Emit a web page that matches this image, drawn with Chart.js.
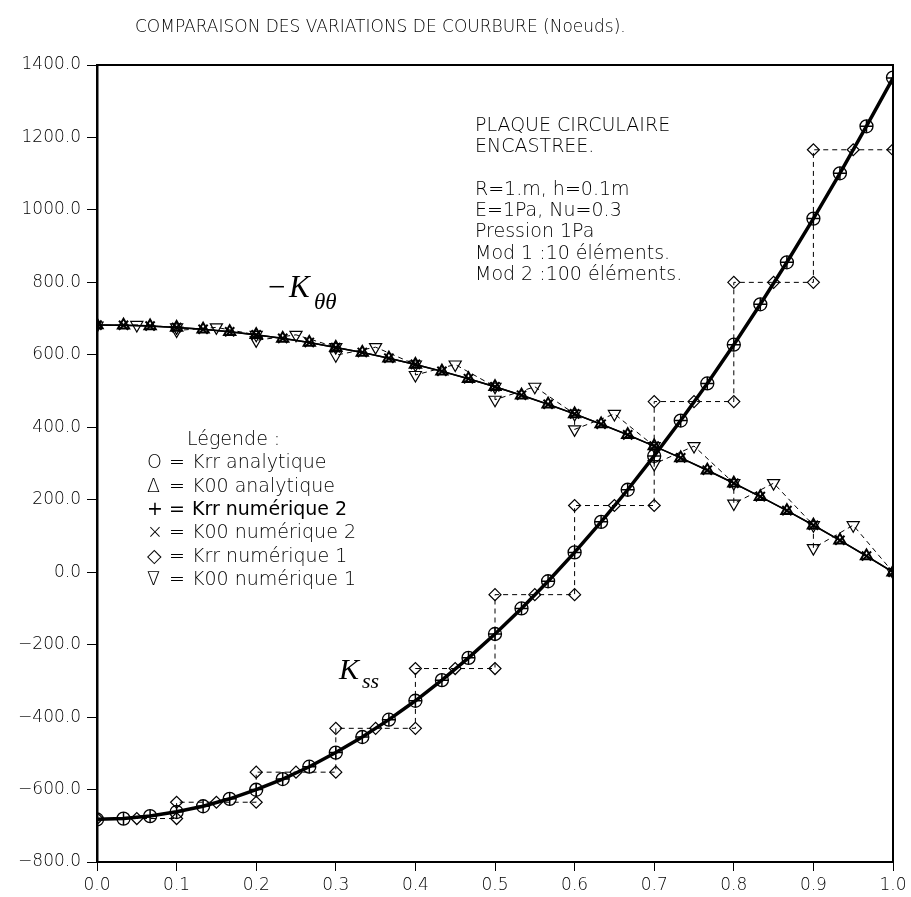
<!DOCTYPE html>
<html><head><meta charset="utf-8">
<script src="https://cdn.jsdelivr.net/npm/chart.js@4/dist/chart.umd.min.js"></script>
<style>html,body{margin:0;padding:0;background:#fff}#wrap{width:911px;height:897px;position:relative}</style>
</head><body><div id="wrap"><canvas id="c" width="911" height="897"></canvas></div>
<script>
// ---- data ----
const rPoints = [0, 0.0333, 0.0667, 0.1, 0.1333, 0.1667, 0.2, 0.2333, 0.2667, 0.3, 0.3333, 0.3667, 0.4, 0.4333, 0.4667, 0.5, 0.5333, 0.5667, 0.6, 0.6333, 0.6667, 0.7, 0.7333, 0.7667, 0.8, 0.8333, 0.8667, 0.9, 0.9333, 0.9667, 1.0];
const krrAnalytique = [-682.5, -680.2, -673.4, -662.0, -646.1, -625.6, -600.6, -571.0, -536.9, -498.2, -455.0, -407.2, -354.9, -298.0, -236.6, -170.6, -100.1, -25.0, 54.6, 138.8, 227.5, 320.8, 418.6, 521.0, 627.9, 739.4, 855.4, 976.0, 1101.1, 1230.8, 1365.0];
const kttAnalytique = [682.5, 681.7, 679.5, 675.7, 670.4, 663.5, 655.2, 645.3, 634.0, 620.1, 606.7, 590.7, 573.3, 554.3, 533.9, 511.9, 488.4, 463.3, 436.8, 408.7, 379.2, 348.1, 315.5, 281.3, 245.7, 208.5, 169.9, 129.7, 87.9, 44.7, 0.0];
const krrNum2 = [-682.0, -680.0, -673.0, -661.5, -646.0, -625.5, -600.0, -571.0, -537.0, -498.0, -455.0, -407.0, -355.0, -298.0, -236.5, -170.5, -100.0, -25.0, 54.5, 139.0, 227.5, 321.0, 418.5, 521.0, 628.0, 739.5, 855.5, 976.0, 1101.0, 1231.0, 1364.0];
const kttNum2 = [682.0, 681.5, 679.5, 675.5, 670.5, 663.5, 655.0, 645.5, 634.0, 620.0, 606.5, 590.5, 573.5, 554.5, 534.0, 512.0, 488.5, 463.5, 437.0, 408.5, 379.0, 348.0, 315.5, 281.5, 245.5, 208.5, 170.0, 129.5, 88.0, 44.5, 0.0];
// modele 1 (10 elements)
const elemNodes = [0, 0.1, 0.2, 0.3, 0.4, 0.5, 0.6, 0.7, 0.8, 0.9, 1.0];
const krrNum1 = [-680, -635, -552, -431, -266, -62, 184, 471, 800, 1166];
const kttNum1Start = [680.8, 667.1, 639.8, 598.9, 544.3, 476.0, 394.1, 298.6, 189.4, 66.5];
const kttNum1Mid = [682.5, 675.7, 655.2, 621.1, 573.3, 511.9, 436.8, 348.1, 245.7, 129.7];
const kttNum1End = [675.7, 655.2, 621.1, 573.3, 511.9, 436.8, 348.1, 245.7, 129.7, 0.0];
const xTickLabels = ['0.0','0.1','0.2','0.3','0.4','0.5','0.6','0.7','0.8','0.9','1.0'];

const titleText = 'COMPARAISON DES VARIATIONS DE COURBURE (Noeuds).';
const infoLines = ['PLAQUE CIRCULAIRE', 'ENCASTREE.', '', 'R=1.m, h=0.1m', 'E=1Pa, Nu=0.3', 'Pression 1Pa', 'Mod 1 :10 éléments.', 'Mod 2 :100 éléments.'];
const legendTitle = 'Légende :';
const legendSymbols = ['O', 'Δ', '+', '×', '◇', '∇'];
const legendLabels = ['Krr analytique', 'K00 analytique', 'Krr numérique 2', 'K00 numérique 2', 'Krr numérique 1', 'K00 numérique 1'];

// ---- build point tables ----
const pts = (xs, ys) => xs.map((x, i) => ({x: x, y: ys[i]}));
const krrNum1Pts = [];
krrNum1.forEach((v, i) => {
  const a = elemNodes[i], b = elemNodes[i + 1];
  krrNum1Pts.push({x: a, y: v}, {x: (a + b) / 2, y: v}, {x: b, y: v});
});
const kttNum1Pts = [];
kttNum1Mid.forEach((v, i) => {
  const a = elemNodes[i], b = elemNodes[i + 1];
  kttNum1Pts.push({x: a, y: kttNum1Start[i]}, {x: (a + b) / 2, y: v}, {x: b, y: kttNum1End[i]});
});

const FONT = '"DejaVu Sans", "Liberation Sans", sans-serif';
const SERIF = '"Liberation Serif", "DejaVu Serif", serif';
const none = 'rgba(0,0,0,0)';

const decor = {
  id: 'decor',
  afterDraw(chart) {
    const ctx = chart.ctx, ca = chart.chartArea;
    ctx.save();
    // frame
    ctx.strokeStyle = '#000';
    ctx.lineWidth = 2;
    ctx.strokeRect(ca.left, ca.top, ca.right - ca.left, ca.bottom - ca.top);
    ctx.fillStyle = '#000';
    ctx.textBaseline = 'middle';
    ctx.textAlign = 'left';
    // title
    ctx.font = '200 17px ' + FONT;
    ctx.fillText(titleText, 135, 28);
    // info block
    ctx.font = '200 19px ' + FONT;
    infoLines.forEach((t, i) => { if (t) ctx.fillText(t, 475, 126 + i * 21.3); });
    // legend
    ctx.font = '200 19px ' + FONT;
    ctx.fillText(legendTitle, 187, 440);
    legendLabels.forEach((t, i) => {
      const y = 463.5 + i * 23.3;
      ctx.font = (i === 2 ? '400 ' : '200 ') + '19px ' + FONT;
      ctx.fillText(legendSymbols[i], 147, y);
      ctx.fillText('=', 169, y);
      ctx.fillText(t, 192, y);
    });
    // math labels
    ctx.textBaseline = 'alphabetic';
    ctx.font = 'italic 31px ' + SERIF;
    ctx.fillText('\u2212', 266, 297);
    ctx.fillText('K', 289, 297);
    ctx.font = 'italic 23px ' + SERIF;
    ctx.fillText('\u03b8\u03b8', 314, 309);
    ctx.font = 'italic 30px ' + SERIF;
    ctx.fillText('K', 339, 679);
    ctx.font = 'italic 22px ' + SERIF;
    ctx.fillText('ss', 362, 688);
    ctx.restore();
  }
};

new Chart(document.getElementById('c'), {
  type: 'line',
  data: {
    datasets: [
      {label: 'Krr analytique', data: pts(rPoints, krrAnalytique), borderColor: '#000', borderWidth: 1.5,
       pointStyle: 'circle', pointRadius: 6.5, pointBorderWidth: 1.3, pointBackgroundColor: none, pointBorderColor: '#000'},
      {label: 'K00 analytique', data: pts(rPoints, kttAnalytique), borderColor: '#000', borderWidth: 1.5,
       pointStyle: 'triangle', pointRadius: 6.5, pointBorderWidth: 2, pointBackgroundColor: none, pointBorderColor: '#000'},
      {label: 'Krr numérique 2', data: pts(rPoints, krrNum2), borderColor: '#000', borderWidth: 3.5,
       pointStyle: 'cross', pointRadius: 6.5, pointBorderWidth: 1.5, pointBackgroundColor: none, pointBorderColor: '#000'},
      {label: 'K00 numérique 2', data: pts(rPoints, kttNum2), borderColor: '#000', borderWidth: 1.5,
       pointStyle: 'crossRot', pointRadius: 6.5, pointBorderWidth: 2, pointBackgroundColor: none, pointBorderColor: '#000'},
      {label: 'Krr numérique 1', data: krrNum1Pts, borderColor: '#000', borderWidth: 1, borderDash: [5, 4],
       pointStyle: 'rectRot', pointRadius: 6, pointBorderWidth: 1.2, pointBackgroundColor: none, pointBorderColor: '#000'},
      {label: 'K00 numérique 1', data: kttNum1Pts, borderColor: '#000', borderWidth: 1, borderDash: [5, 4],
       pointStyle: 'triangle', pointRotation: 180, pointRadius: 7, pointBorderWidth: 1.2, pointBackgroundColor: none, pointBorderColor: '#000'}
    ]
  },
  options: {
    responsive: false,
    animation: false,
    devicePixelRatio: 1,
    layout: {padding: {top: 65, right: 18, left: 0, bottom: 0}},
    plugins: {legend: {display: false}, tooltip: {enabled: false}, title: {display: false}},
    elements: {line: {tension: 0}},
    scales: {
      x: {
        type: 'linear', min: 0, max: 1,
        afterFit: s => { s.height = 35; },
        afterBuildTicks: s => { s.ticks = elemNodes.map(v => ({value: v})); },
        ticks: {color: '#000', font: {family: FONT, size: 17, weight: '200'}, padding: 4, maxRotation: 0,
                callback: (v, i) => xTickLabels[i]},
        grid: {display: true, drawOnChartArea: false, drawTicks: true, tickLength: 9, color: '#000', lineWidth: 1},
        border: {display: true, color: '#000', width: 2}
      },
      y: {
        type: 'linear', min: -800, max: 1400,
        afterFit: s => { s.width = 97; },
        ticks: {stepSize: 200, color: '#000', font: {family: FONT, size: 17, weight: '200'}, padding: 6,
                callback: v => v.toFixed(1).replace('-', '\u2212')},
        grid: {display: true, drawOnChartArea: false, drawTicks: true, tickLength: 10, color: '#000', lineWidth: 1},
        border: {display: true, color: '#000', width: 2.5}
      }
    }
  },
  plugins: [decor]
});
</script></body></html>
